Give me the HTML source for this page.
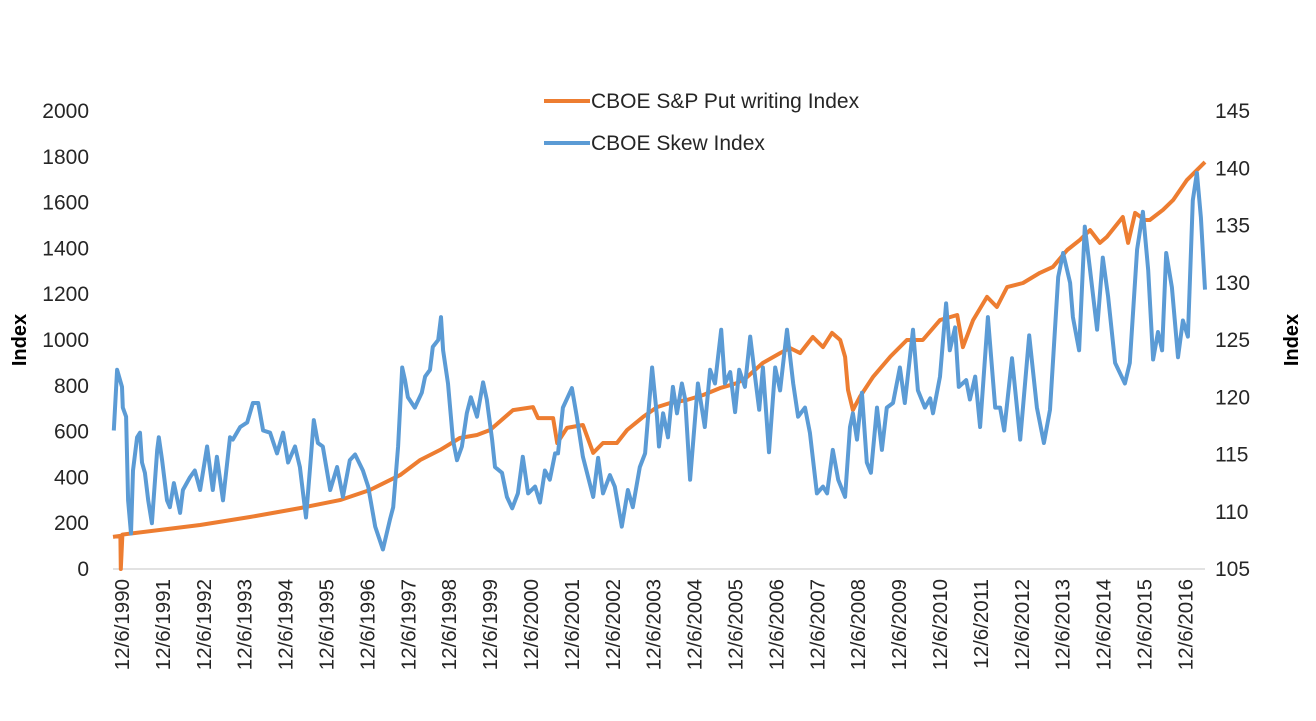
<!DOCTYPE html>
<html><head><meta charset="utf-8"><style>
html,body{margin:0;padding:0;background:#fff;}
svg{display:block;font-family:"Liberation Sans",sans-serif;}
</style></head><body>
<svg id="chart" width="1316" height="721" viewBox="0 0 1316 721" xmlns="http://www.w3.org/2000/svg">
<rect width="1316" height="721" fill="#fff"/>
<g id="g-axes"></g>
<g id="g-series"></g>
<g>
 <line x1="544" y1="101" x2="590" y2="101" stroke="#ED7D31" stroke-width="4"/>
 <text x="591" y="108" font-size="21" fill="#262626">CBOE S&amp;P Put writing Index</text>
 <line x1="544" y1="143" x2="590" y2="143" stroke="#5B9BD5" stroke-width="4"/>
 <text x="591" y="150" font-size="21" fill="#262626">CBOE Skew Index</text>
</g>
<text transform="translate(26,340) rotate(-90)" text-anchor="middle" font-size="20" font-weight="bold" fill="#000">Index</text>
<text transform="translate(1298,340) rotate(-90)" text-anchor="middle" font-size="20" font-weight="bold" fill="#000">Index</text>
</svg>
<script>
const leftTicks=[0,200,400,600,800,1000,1200,1400,1600,1800,2000];
const rightTicks=[105,110,115,120,125,130,135,140,145];
const xLabels=["12/6/1990","12/6/1991","12/6/1992","12/6/1993","12/6/1994","12/6/1995","12/6/1996","12/6/1997","12/6/1998","12/6/1999","12/6/2000","12/6/2001","12/6/2002","12/6/2003","12/6/2004","12/6/2005","12/6/2006","12/6/2007","12/6/2008","12/6/2009","12/6/2010","12/6/2011","12/6/2012","12/6/2013","12/6/2014","12/6/2015","12/6/2016"];
const putDates=[1990.70,1990.88,1990.89,1990.93,1992.83,1994.05,1995.27,1996.25,1996.98,1997.72,1998.21,1998.70,1999.18,1999.60,1999.92,2000.48,2000.97,2001.09,2001.46,2001.56,2001.80,2002.19,2002.44,2002.68,2003.02,2003.27,2003.66,2004.00,2004.32,2004.73,2005.13,2005.54,2005.96,2006.20,2006.59,2007.01,2007.25,2007.50,2007.81,2008.06,2008.28,2008.48,2008.60,2008.67,2008.79,2008.96,2009.28,2009.70,2010.11,2010.50,2010.92,2011.34,2011.48,2011.73,2012.07,2012.31,2012.56,2012.95,2013.36,2013.68,2014.03,2014.34,2014.59,2014.83,2015.00,2015.39,2015.52,2015.69,2015.93,2016.05,2016.37,2016.62,2016.96,2017.40];
const putValues=[140,145,0,150,192,227,266,301,345,410,476,520,572,585,607,694,707,659,659,550,616,629,507,550,550,607,664,707,725,738,760,790,812,838,900,943,965,943,1013,969,1031,1000,926,782,694,751,838,926,1000,1000,1087,1109,969,1087,1188,1144,1231,1249,1293,1319,1393,1437,1480,1424,1450,1537,1424,1555,1524,1524,1568,1611,1699,1777];
const skewDates=[1990.72,1990.80,1990.92,1990.94,1991.02,1991.07,1991.14,1991.19,1991.29,1991.36,1991.41,1991.48,1991.56,1991.65,1991.78,1991.82,1991.90,1992.02,1992.09,1992.19,1992.34,1992.41,1992.58,1992.70,1992.83,1993.00,1993.14,1993.24,1993.39,1993.56,1993.63,1993.81,1993.98,1994.12,1994.25,1994.37,1994.54,1994.71,1994.86,1994.98,1995.15,1995.27,1995.42,1995.52,1995.61,1995.71,1995.83,1996.01,1996.18,1996.32,1996.49,1996.62,1996.81,1996.94,1997.11,1997.30,1997.47,1997.55,1997.67,1997.77,1997.84,1997.91,1998.08,1998.25,1998.33,1998.45,1998.52,1998.65,1998.72,1998.77,1998.89,1999.01,1999.11,1999.23,1999.35,1999.45,1999.60,1999.75,1999.84,1999.97,2000.04,2000.21,2000.33,2000.46,2000.60,2000.72,2000.85,2001.02,2001.14,2001.26,2001.38,2001.51,2001.58,2001.70,2001.92,2002.04,2002.19,2002.44,2002.56,2002.68,2002.85,2002.97,2003.14,2003.29,2003.41,2003.58,2003.71,2003.88,2004.00,2004.05,2004.15,2004.27,2004.39,2004.49,2004.61,2004.69,2004.81,2005.00,2005.17,2005.30,2005.42,2005.57,2005.66,2005.79,2005.91,2006.01,2006.15,2006.28,2006.42,2006.50,2006.59,2006.74,2006.89,2007.01,2007.18,2007.33,2007.45,2007.62,2007.74,2007.91,2008.06,2008.16,2008.30,2008.43,2008.60,2008.72,2008.79,2008.89,2009.01,2009.13,2009.23,2009.38,2009.50,2009.62,2009.77,2009.94,2010.06,2010.26,2010.38,2010.55,2010.68,2010.75,2010.92,2011.07,2011.16,2011.29,2011.38,2011.56,2011.65,2011.78,2011.90,2012.09,2012.27,2012.39,2012.49,2012.68,2012.88,2013.10,2013.29,2013.46,2013.61,2013.81,2013.93,2014.10,2014.17,2014.32,2014.46,2014.59,2014.76,2014.90,2015.03,2015.20,2015.44,2015.56,2015.74,2015.88,2016.01,2016.13,2016.25,2016.35,2016.45,2016.59,2016.74,2016.86,2016.98,2017.10,2017.20,2017.30,2017.40];
const skewValues=[117.1,122.4,120.9,119.1,118.3,111.0,108.1,113.6,116.5,116.9,114.3,113.4,111.0,109.0,115.4,116.5,114.5,111.0,110.4,112.5,109.9,111.9,113.0,113.6,111.9,115.7,111.9,114.8,111.0,116.5,116.3,117.4,117.8,119.5,119.5,117.1,116.9,115.1,116.9,114.3,115.7,113.9,109.5,113.9,118.0,116.0,115.7,111.9,113.9,111.3,114.5,115.0,113.6,112.2,108.7,106.7,109.3,110.4,115.7,122.6,121.5,120.0,119.1,120.4,121.8,122.4,124.4,125.0,127.0,124.1,121.2,116.3,114.5,115.7,118.6,120.0,118.3,121.3,119.8,116.3,113.9,113.4,111.3,110.3,111.6,114.8,111.6,112.2,110.8,113.6,112.8,115.1,115.1,119.1,120.8,118.3,114.8,111.3,114.7,111.6,113.2,112.2,108.7,111.9,110.4,113.9,115.1,122.6,118.3,115.7,118.6,116.5,120.9,118.6,121.2,119.8,112.8,121.2,117.4,122.4,121.2,125.9,121.2,122.2,118.7,122.4,120.9,125.3,121.2,118.9,122.6,115.2,122.6,120.6,125.9,121.2,118.3,119.1,116.9,111.6,112.2,111.6,115.4,112.8,111.3,117.4,118.6,116.3,120.4,114.3,113.4,119.1,115.4,119.1,119.5,122.6,119.5,125.9,120.6,119.1,119.9,118.6,121.8,128.2,124.1,126.1,120.9,121.5,119.8,121.8,117.4,127.0,119.1,119.1,117.1,123.4,116.3,125.4,119.1,116.0,118.9,130.5,132.6,130.0,127.0,124.1,134.9,131.1,125.9,132.2,128.8,123.0,121.2,123.0,132.9,136.2,131.1,123.3,125.7,124.1,132.6,129.6,123.5,126.7,125.3,137.2,139.6,135.7,129.4];

const NS='http://www.w3.org/2000/svg';
const PL=113,PR=1205,PT=111,PB=569;
function xScale(yr){return 122+(yr-1990.92)*40.9;}
function yLeft(v){return PB-(v-0)/(2000-0)*(PB-PT);}
function yRight(v){return PB-(v-105)/(145-105)*(PB-PT);}
const axes=document.getElementById('g-axes');
const series=document.getElementById('g-series');
function mk(tag,attrs,parent){const e=document.createElementNS(NS,tag);for(const k in attrs)e.setAttribute(k,attrs[k]);parent.appendChild(e);return e;}

const base=mk('line',{x1:PL,y1:PB,x2:PR,y2:PB,stroke:'#d9d9d9','stroke-width':1.5},axes);



leftTicks.forEach(v=>{
  const t=mk('text',{x:89,y:yLeft(v)+7,'text-anchor':'end','font-size':21,fill:'#262626'},axes);
  t.textContent=v;
  
  
});
rightTicks.forEach(v=>{
  const t=mk('text',{x:1215,y:yRight(v)+7,'text-anchor':'start','font-size':21,fill:'#262626'},axes);
  t.textContent=v;
  
  
});
xLabels.forEach((lab,i)=>{
  const x=xScale(1990.92+i);
  const t=mk('text',{transform:'translate('+(x+7)+',579) rotate(-90)','text-anchor':'end','font-size':20.5,fill:'#262626'},axes);
  t.textContent=lab;
  
  
});

function path(dates,vals,ys){return dates.map((d,i)=>(i?'L':'M')+xScale(d).toFixed(1)+' '+ys(vals[i]).toFixed(1)).join(' ');}
const pPut=mk('path',{d:path(putDates,putValues,yLeft),fill:'none',stroke:'#ED7D31','stroke-width':4,'stroke-linejoin':'round'},series);


const pSkew=mk('path',{d:path(skewDates,skewValues,yRight),fill:'none',stroke:'#5B9BD5','stroke-width':4,'stroke-linejoin':'round'},series);


</script>
</body></html>
